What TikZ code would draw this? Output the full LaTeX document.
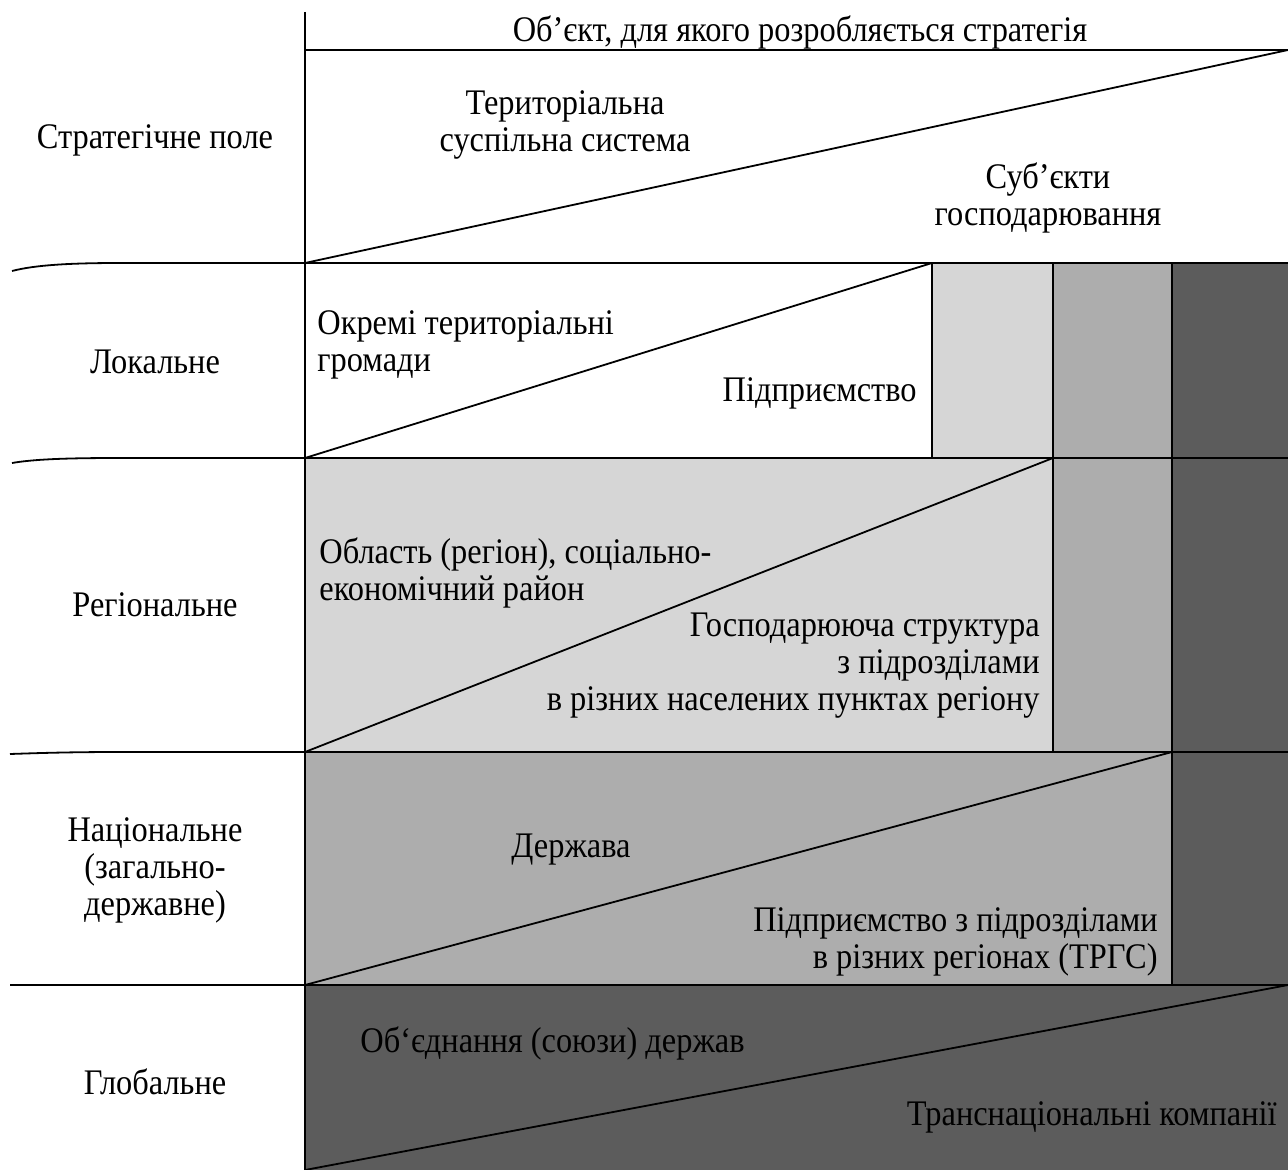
\documentclass[tikz,border=0pt]{standalone}
\usepackage{fontspec}
\setmainfont{Liberation Serif}[FakeStretch=0.9]
\definecolor{lightg}{gray}{0.84}
\definecolor{midg}{gray}{0.68}
\definecolor{darkg}{gray}{0.36}
\begin{document}
\begin{tikzpicture}[x=0.5pt,y=-0.5pt]
\tikzset{
  txt/.style={inner sep=0pt, font=\fontsize{18}{18.5}\selectfont},
  rule/.style={line width=0.9pt, black},
  sep/.style={line width=0.6pt, black}
}
\useasboundingbox (0,0) rectangle (1288,1170);
% fills
\fill[white] (0,0) rectangle (1288,1170);
\fill[lightg] (932,263) rectangle (1053,752);
\fill[lightg] (305,458) rectangle (1053,752);
\fill[midg] (1053,263) rectangle (1172,985);
\fill[midg] (305,752) rectangle (1172,985);
\fill[darkg] (1172,263) rectangle (1288,1170);
\fill[darkg] (305,985) rectangle (1288,1170);
% main frame lines
\draw[rule] (305,12) -- (305,1170);
\draw[rule] (305,50) -- (1288,50);
\draw[rule] (12,271) .. controls (35,265) and (70,263) .. (120,263) -- (1288,263);
\draw[rule] (12,463) .. controls (35,459) and (70,458) .. (120,458) -- (1288,458);
\draw[rule] (10,754) .. controls (40,753) and (70,752) .. (120,752) -- (1288,752);
\draw[rule] (10,985) -- (1288,985);
% column separators
\draw[sep] (932,263) -- (932,458);
\draw[sep] (1053,263) -- (1053,752);
\draw[sep] (1172,263) -- (1172,985);
% diagonals
\draw[rule] (305,263) -- (1288,50);
\draw[rule] (305,458) -- (932,263);
\draw[rule] (305,752) -- (1053,458);
\draw[rule] (305,985) -- (1172,752);
\draw[rule] (305,1170) -- (1288,985);
% left column labels
\node[txt] (pole) at (155,140) {Стратегічне поле};
\node[txt] (lok) at (155,362) {Локальне};
\node[txt] (reg) at (155,605) {Регіональне};
\node[txt, align=center] (nac) at (155,870) {Національне\\(загально-\\державне)};
\node[txt] (glob) at (155,1082) {Глобальне};
% header
\node[txt] (obj) at (800,32) {Об’єкт, для якого розробляється стратегія};
% strategic field
\node[txt, align=center] (tss) at (565,125) {Територіальна\\суспільна система};
\node[txt, align=center] (sub) at (1048,198) {Суб’єкти\\господарювання};
% local
\node[txt, align=left, anchor=west] (grom) at (317,345) {Окремі територіальні\\громади};
\node[txt, anchor=east] (pidp) at (917,393) {Підприємство};
% regional
\node[txt, align=left, anchor=west] (obl) at (319,573) {Область (регіон), соціально-\\економічний район};
\node[txt, align=right, anchor=east] (gosp) at (1040,666) {Господарююча структура\\з підрозділами\\в різних населених пунктах регіону};
% national
\node[txt] (derzh) at (571,850) {Держава};
\node[txt, align=right, anchor=east] (pidpr) at (1158,942) {Підприємство з підрозділами\\в різних регіонах (ТРГС)};
% global
\node[txt, anchor=west] (obyed) at (360,1043) {Об`єднання (союзи) держав};
\node[txt, anchor=east] (tnk) at (1277,1117) {Транснаціональні компанії};
\end{tikzpicture}
\end{document}
